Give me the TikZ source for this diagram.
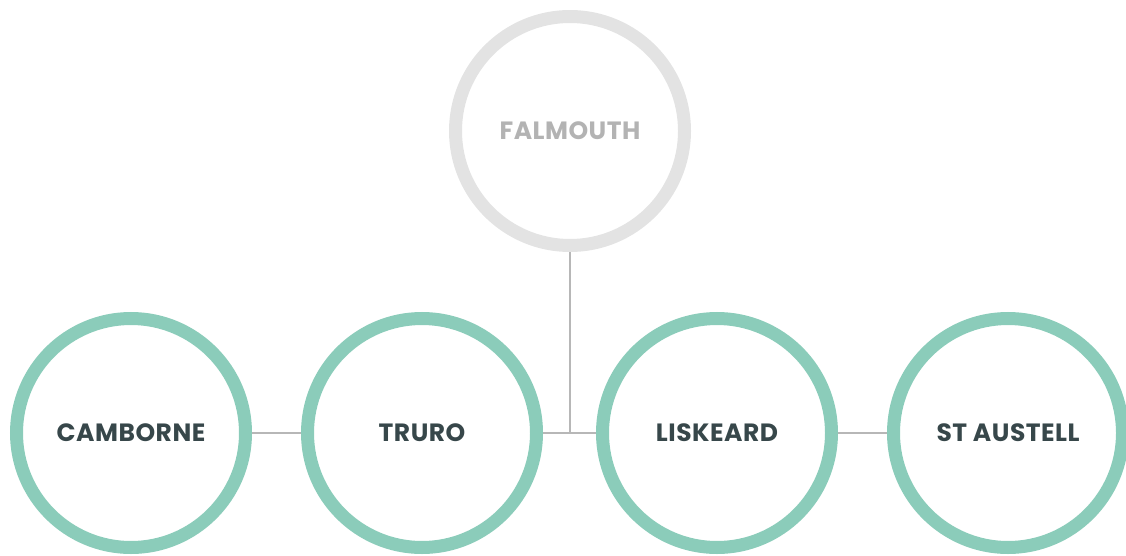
\documentclass[tikz,border=0pt]{standalone}
\usepackage{fontspec}
\setmainfont{Poppins}[LetterSpace=2]
\definecolor{ringteal}{RGB}{139, 204, 186}
\definecolor{ringgrey}{RGB}{227, 227, 227}
\definecolor{textdark}{RGB}{55, 71, 74}
\definecolor{textgrey}{RGB}{179, 179, 179}
\definecolor{linkgrey}{RGB}{183, 183, 183}
\usetikzlibrary{positioning, calc}

\begin{document}
\begin{tikzpicture}[x=1pt, y=1pt,
  townring/.style={circle, draw=ringteal, line width=13pt, minimum size=229pt, inner sep=0pt, font=\fontsize{25}{28}\selectfont\bfseries, text=textdark},
  oldring/.style={townring, draw=ringgrey, text=textgrey},
  link/.style={draw=linkgrey, line width=1.4pt}]
  \useasboundingbox (0, 0) rectangle (1126, 555);

  % Falmouth
  \node[oldring] (falmouth) at (570, 424) {FALMOUTH};

  % Bottom row
  \node[townring] (camborne) at (131, 122) {CAMBORNE};
  \node[townring] (truro) at (422, 122) {TRURO};
  \node[townring] (liskeard) at (717, 122) {LISKEARD};
  \node[townring] (staustell) at (1008, 122) {ST AUSTELL};

  % Links
  \coordinate (junction) at (falmouth |- truro);
  \draw[link] (camborne.east) -- (truro.west);
  \draw[link] (truro.east) -- (liskeard.west);
  \draw[link] (falmouth.south) -- (junction);
  \draw[link] (liskeard.east) -- (staustell.west);
\end{tikzpicture}
\end{document}
